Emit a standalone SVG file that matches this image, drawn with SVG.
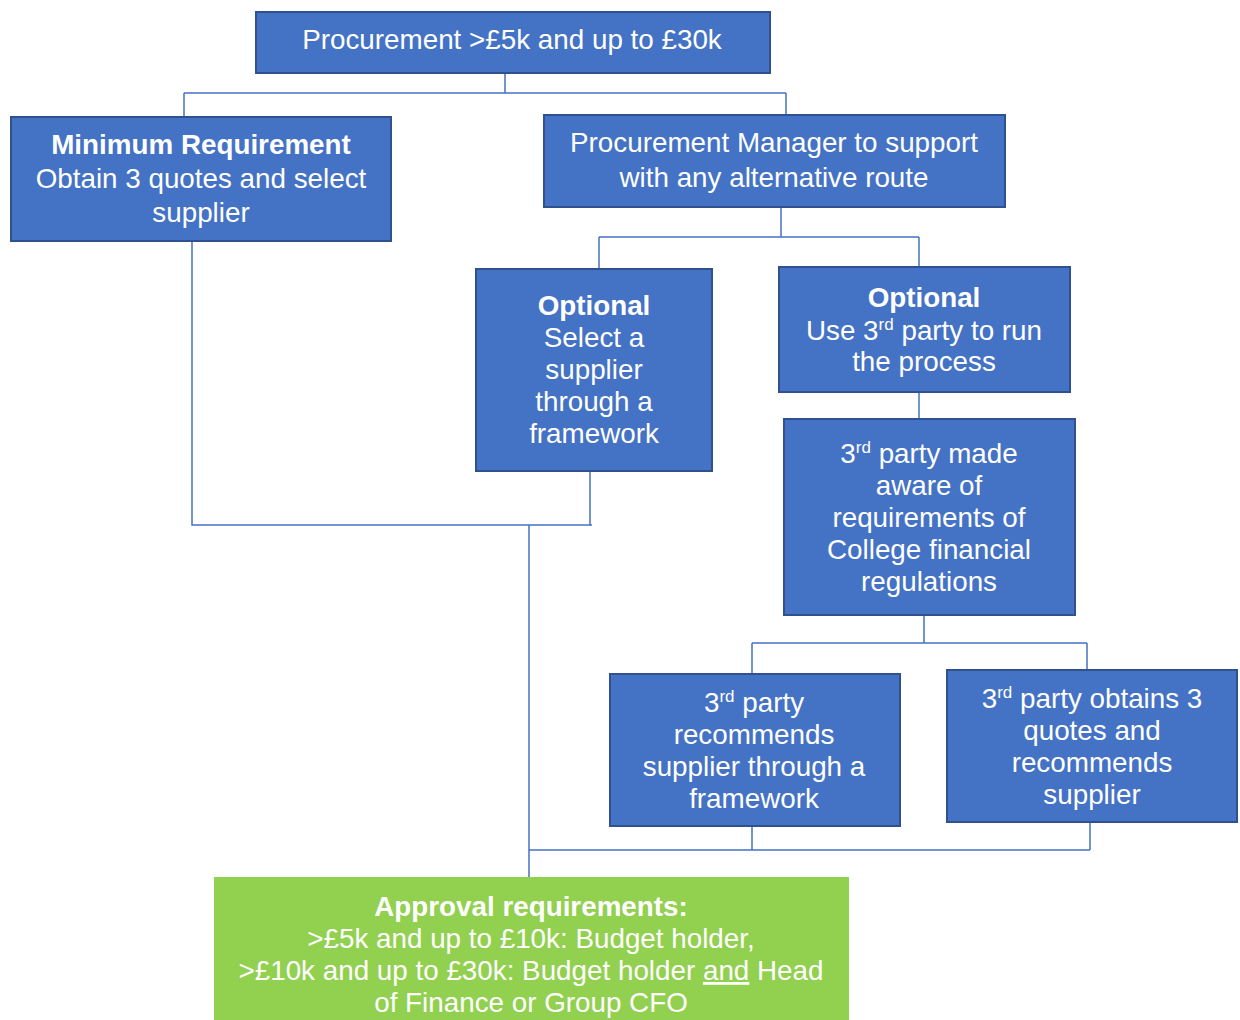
<svg xmlns="http://www.w3.org/2000/svg" width="1240" height="1020" viewBox="0 0 1240 1020">
<style>
.box{fill:#4472C4;stroke:#2F528F;stroke-width:2}
.green{fill:#92D050}
.t{font-family:"Liberation Sans",Arial,sans-serif;font-size:27.8px;fill:#fff;text-anchor:middle}
.b{font-weight:bold}
.sup{font-size:17px}
.c{stroke:#4472C4;stroke-width:1.5;fill:none}
</style>
<rect width="1240" height="1020" fill="#fff"/>
<g id="connectors">
<path class="c" d="M505 73V93M184 93H786M184 93V117M786 93V115"/>
<path class="c" d="M781 207V237M599 237H919M599 237V269M919 237V267"/>
<path class="c" d="M192 241V525H592M590 471V525M529 525V877"/>
<path class="c" d="M919 392V419"/>
<path class="c" d="M924 615V643M752 643H1087M752 643V674M1087 643V670"/>
<path class="c" d="M752 826V850M1090 822V850M529 850H1090"/>
</g>
<g id="n-top">
<rect class="box" x="256" y="12" width="514" height="61"/>
<text class="t" x="512" y="49">Procurement &gt;£5k and up to £30k</text>
</g>
<g id="n-min">
<rect class="box" x="11" y="117" width="380" height="124"/>
<text class="t" x="201" y="154"><tspan class="b">Minimum Requirement</tspan><tspan x="201" y="188">Obtain 3 quotes and select</tspan><tspan x="201" y="222">supplier</tspan></text>
</g>
<g id="n-pm">
<rect class="box" x="544" y="115" width="461" height="92"/>
<text class="t" x="774" y="152">Procurement Manager to support<tspan x="774" y="187">with any alternative route</tspan></text>
</g>
<g id="n-opt1">
<rect class="box" x="476" y="269" width="236" height="202"/>
<text class="t" x="594" y="315"><tspan class="b">Optional</tspan><tspan x="594" y="347">Select a</tspan><tspan x="594" y="379">supplier</tspan><tspan x="594" y="411">through a</tspan><tspan x="594" y="443">framework</tspan></text>
</g>
<g id="n-opt2">
<rect class="box" x="779" y="267" width="291" height="125"/>
<text class="t" x="924" y="307"><tspan class="b">Optional</tspan><tspan x="924" y="340">Use 3<tspan class="sup" dy="-10">rd</tspan><tspan dy="10"> party to run</tspan></tspan><tspan x="924" y="371">the process</tspan></text>
</g>
<g id="n-aware">
<rect class="box" x="784" y="419" width="291" height="196"/>
<text class="t" x="929" y="463">3<tspan class="sup" dy="-10">rd</tspan><tspan dy="10"> party made</tspan><tspan x="929" y="495">aware of</tspan><tspan x="929" y="527">requirements of</tspan><tspan x="929" y="559">College financial</tspan><tspan x="929" y="591">regulations</tspan></text>
</g>
<g id="n-rec">
<rect class="box" x="610" y="674" width="290" height="152"/>
<text class="t" x="754" y="712">3<tspan class="sup" dy="-10">rd</tspan><tspan dy="10"> party</tspan><tspan x="754" y="744">recommends</tspan><tspan x="754" y="776">supplier through a</tspan><tspan x="754" y="808">framework</tspan></text>
</g>
<g id="n-obt">
<rect class="box" x="947" y="670" width="290" height="152"/>
<text class="t" x="1092" y="708">3<tspan class="sup" dy="-10">rd</tspan><tspan dy="10"> party obtains 3</tspan><tspan x="1092" y="740">quotes and</tspan><tspan x="1092" y="772">recommends</tspan><tspan x="1092" y="804">supplier</tspan></text>
</g>
<g id="n-approval">
<rect class="green" x="214" y="877" width="635" height="150"/>
<text class="t" x="531" y="916"><tspan class="b">Approval requirements:</tspan><tspan x="531" y="948">&gt;£5k and up to £10k: Budget holder,</tspan><tspan x="531" y="980">&gt;£10k and up to £30k: Budget holder <tspan text-decoration="underline">and</tspan> Head</tspan><tspan x="531" y="1012">of Finance or Group CFO</tspan></text>
</g>
</svg>
